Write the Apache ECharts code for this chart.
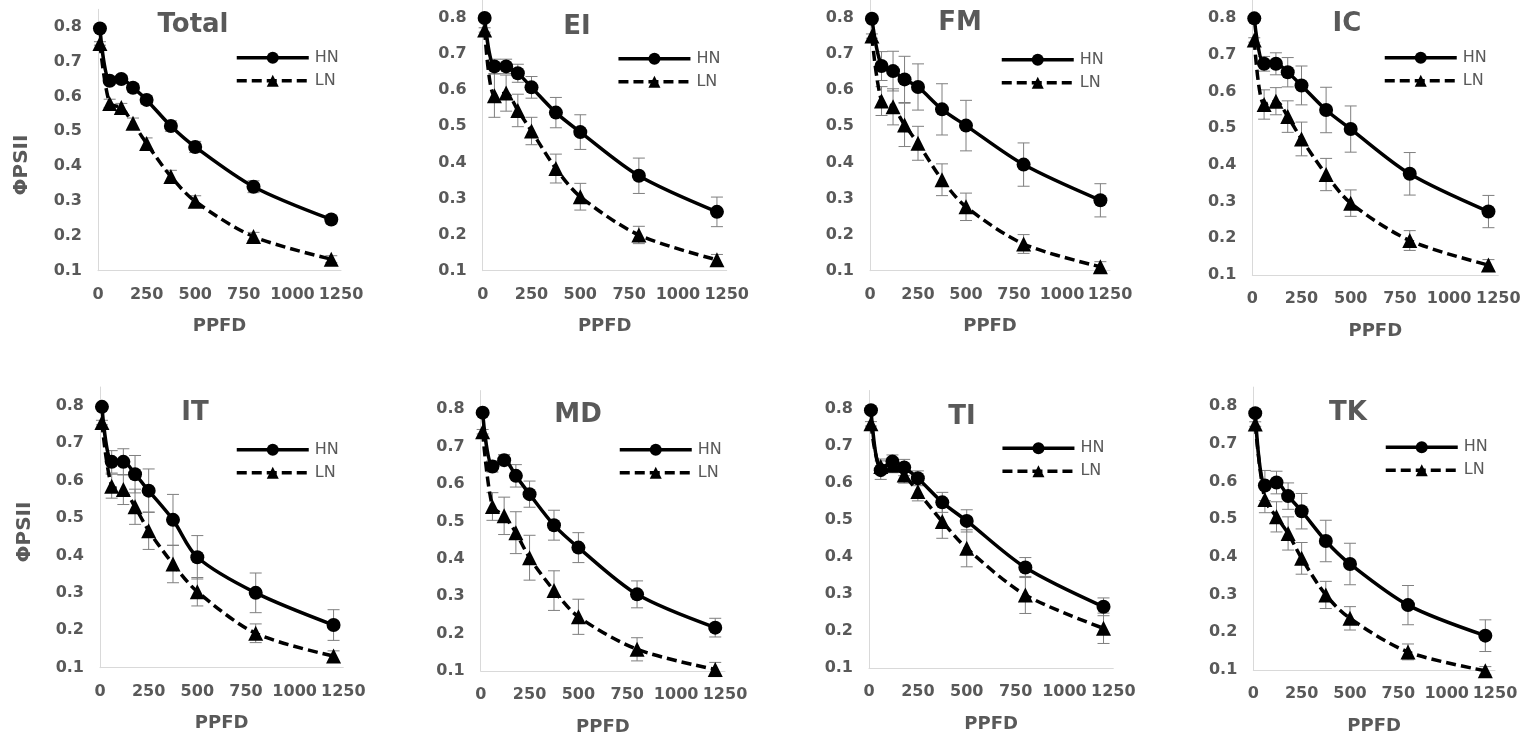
<!DOCTYPE html>
<html>
<head>
<meta charset="utf-8">
<script src="https://cdn.jsdelivr.net/npm/echarts@6/dist/echarts.min.js"></script>
<style>
  html, body { margin: 0; padding: 0; background: #fff; }
  #chart { width: 1528px; height: 737px; }
</style>
</head>
<body>
<div id="chart"></div>
<script>
// Light-response of ΦPSII under high (HN) and low (LN) nitrogen, per site
const ppfd = [10, 60, 120, 180, 250, 375, 500, 800, 1200];
const panelNames = ['Total', 'EI', 'FM', 'IC', 'IT', 'MD', 'TI', 'TK'];
const xTicks = [0, 250, 500, 750, 1000, 1250];
const yTicks = [0.1, 0.2, 0.3, 0.4, 0.5, 0.6, 0.7, 0.8];

const hnTotal = [0.795, 0.645, 0.650, 0.625, 0.590, 0.515, 0.455, 0.341, 0.247];
const hnErrTotal = [0.005, 0.010, 0.010, 0.012, 0.012, 0.015, 0.016, 0.017, 0.012];
const lnTotal = [0.752, 0.580, 0.568, 0.523, 0.465, 0.370, 0.299, 0.198, 0.133];
const lnErrTotal = [0.005, 0.012, 0.012, 0.015, 0.016, 0.018, 0.016, 0.012, 0.010];

const hnEI = [0.800, 0.666, 0.666, 0.647, 0.608, 0.538, 0.484, 0.363, 0.263];
const hnErrEI = [0.005, 0.020, 0.020, 0.025, 0.030, 0.042, 0.048, 0.049, 0.041];
const lnEI = [0.767, 0.585, 0.592, 0.544, 0.487, 0.383, 0.305, 0.199, 0.130];
const lnErrEI = [0.006, 0.060, 0.050, 0.045, 0.038, 0.040, 0.037, 0.024, 0.015];

const hnFM = [0.798, 0.667, 0.653, 0.630, 0.609, 0.547, 0.502, 0.394, 0.295];
const hnErrFM = [0.005, 0.040, 0.055, 0.064, 0.064, 0.071, 0.070, 0.060, 0.046];
const lnFM = [0.750, 0.570, 0.554, 0.504, 0.453, 0.352, 0.277, 0.174, 0.111];
const lnErrFM = [0.006, 0.040, 0.050, 0.060, 0.047, 0.044, 0.038, 0.026, 0.014];

const hnIC = [0.800, 0.676, 0.676, 0.653, 0.617, 0.550, 0.498, 0.376, 0.273];
const hnErrIC = [0.005, 0.020, 0.030, 0.040, 0.053, 0.062, 0.063, 0.058, 0.044];
const lnIC = [0.741, 0.565, 0.574, 0.532, 0.471, 0.374, 0.296, 0.194, 0.127];
const lnErrIC = [0.006, 0.040, 0.037, 0.043, 0.046, 0.044, 0.036, 0.027, 0.015];

const hnIT = [0.797, 0.650, 0.650, 0.617, 0.573, 0.495, 0.395, 0.300, 0.214];
const hnErrIT = [0.005, 0.030, 0.035, 0.050, 0.058, 0.068, 0.058, 0.053, 0.041];
const lnIT = [0.755, 0.585, 0.576, 0.530, 0.466, 0.377, 0.303, 0.192, 0.131];
const lnErrIT = [0.006, 0.032, 0.040, 0.047, 0.050, 0.050, 0.038, 0.025, 0.014];

const hnMD = [0.791, 0.647, 0.664, 0.622, 0.573, 0.490, 0.430, 0.305, 0.216];
const hnErrMD = [0.005, 0.015, 0.015, 0.030, 0.035, 0.040, 0.040, 0.036, 0.025];
const lnMD = [0.740, 0.540, 0.515, 0.470, 0.403, 0.315, 0.245, 0.158, 0.104];
const lnErrMD = [0.006, 0.037, 0.050, 0.056, 0.060, 0.053, 0.047, 0.031, 0.019];

const hnTI = [0.797, 0.635, 0.658, 0.642, 0.613, 0.548, 0.498, 0.372, 0.266];
const hnErrTI = [0.005, 0.025, 0.018, 0.022, 0.020, 0.027, 0.030, 0.027, 0.024];
const lnTI = [0.760, 0.645, 0.648, 0.622, 0.577, 0.496, 0.424, 0.298, 0.208];
const lnErrTI = [0.006, 0.020, 0.020, 0.022, 0.025, 0.045, 0.050, 0.050, 0.041];

const hnTK = [0.781, 0.589, 0.597, 0.561, 0.521, 0.442, 0.381, 0.272, 0.191];
const hnErrTK = [0.005, 0.040, 0.030, 0.035, 0.047, 0.055, 0.055, 0.052, 0.042];
const lnTK = [0.752, 0.552, 0.506, 0.462, 0.396, 0.299, 0.237, 0.148, 0.098];
const lnErrTK = [0.006, 0.035, 0.040, 0.044, 0.042, 0.036, 0.031, 0.021, 0.011];

const panelData = {
  Total: [hnTotal, hnErrTotal, lnTotal, lnErrTotal],
  EI: [hnEI, hnErrEI, lnEI, lnErrEI],
  FM: [hnFM, hnErrFM, lnFM, lnErrFM],
  IC: [hnIC, hnErrIC, lnIC, lnErrIC],
  IT: [hnIT, hnErrIT, lnIT, lnErrIT],
  MD: [hnMD, hnErrMD, lnMD, lnErrMD],
  TI: [hnTI, hnErrTI, lnTI, lnErrTI],
  TK: [hnTK, hnErrTK, lnTK, lnErrTK]
};

// Plot-area boxes (px): left, top, width, height; title centre; legend anchor
const layout = [
  { l: 98,    t: 9.3,   w: 243,   h: 261.4, tx: 193, ty: 25,  lx: 235,   ly: 57.3 },
  { l: 482.7, t: -0.8,  w: 244,   h: 271.5, tx: 577, ty: 27,  lx: 616.7, ly: 58.3 },
  { l: 870,   t: -1.4,  w: 240,   h: 272.1, tx: 960, ty: 23,  lx: 1000,  ly: 59.3 },
  { l: 1252.3,t: -2.8,  w: 246,   h: 277.8, tx: 1347, ty: 24, lx: 1383,  ly: 57.3 },
  { l: 100,   t: 387,   w: 243.3, h: 280.7, tx: 195, ty: 413, lx: 235,   ly: 449.3 },
  { l: 480.7, t: 390.6, w: 244.3, h: 280.4, tx: 578, ty: 415, lx: 618,   ly: 449.3 },
  { l: 869,   t: 390.5, w: 244.3, h: 277.8, tx: 962, ty: 417, lx: 1000.7,ly: 447.7 },
  { l: 1253.3,t: 387.1, w: 241.7, h: 282.9, tx: 1348, ty: 413,lx: 1384,  ly: 446.7 }
];

const FONT = '"DejaVu Sans", Verdana, sans-serif';
const GREY = '#595959';
const AXIS_GREY = '#d9d9d9';
const ERR_GREY = '#7f7f7f';

function errorBarRender(params, api) {
  const x = api.value(0), y = api.value(1), e = api.value(2);
  const top = api.coord([x, y + e]);
  const bot = api.coord([x, y - e]);
  const hw = 6;
  const st = { stroke: ERR_GREY, lineWidth: 1 };
  return {
    type: 'group',
    children: [
      { type: 'line', shape: { x1: top[0], y1: top[1], x2: bot[0], y2: bot[1] }, style: st },
      { type: 'line', shape: { x1: top[0] - hw, y1: top[1], x2: top[0] + hw, y2: top[1] }, style: st },
      { type: 'line', shape: { x1: bot[0] - hw, y1: bot[1], x2: bot[0] + hw, y2: bot[1] }, style: st }
    ]
  };
}

const grids = [], xAxes = [], yAxes = [], series = [], legends = [], graphics = [];

panelNames.forEach((name, i) => {
  const L = layout[i];
  const [hn, hnErr, ln, lnErr] = panelData[name];

  grids.push({ left: L.l, top: L.t, width: L.w, height: L.h, containLabel: false });

  xAxes.push({
    type: 'value', gridIndex: i,
    min: xTicks[0], max: xTicks[xTicks.length - 1], interval: xTicks[1] - xTicks[0],
    name: 'PPFD', nameLocation: 'middle', nameGap: 47,
    nameTextStyle: { fontFamily: FONT, fontWeight: 'bold', fontSize: 18, color: GREY },
    axisLine: { lineStyle: { color: AXIS_GREY, width: 1 } },
    axisTick: { show: false },
    splitLine: { show: false },
    axisLabel: {
      fontFamily: FONT, fontWeight: 'bold', fontSize: 16, color: GREY, margin: 16,
      showMinLabel: true, showMaxLabel: true, hideOverlap: false,
      formatter: v => String(Math.round(v))
    }
  });

  yAxes.push({
    type: 'value', gridIndex: i,
    min: yTicks[0], max: 0.85, interval: 0.1,
    axisLine: { show: true, lineStyle: { color: AXIS_GREY, width: 1 } },
    axisTick: { show: false },
    splitLine: { show: false },
    axisLabel: {
      fontFamily: FONT, fontWeight: 'bold', fontSize: 16, color: GREY, margin: 16,
      showMaxLabel: false,
      formatter: v => (v > yTicks[yTicks.length - 1] + 1e-9 ? '' : v.toFixed(1))
    }
  });

  const errData = (ys, es) => ppfd.map((x, k) => [x, ys[k], es[k]]);

  series.push({
    type: 'custom', name: 'HN error', xAxisIndex: i, yAxisIndex: i, z: 1,
    renderItem: errorBarRender, encode: { x: 0, y: 1 }, data: errData(hn, hnErr), silent: true
  });
  series.push({
    type: 'custom', name: 'LN error', xAxisIndex: i, yAxisIndex: i, z: 1,
    renderItem: errorBarRender, encode: { x: 0, y: 1 }, data: errData(ln, lnErr), silent: true
  });

  series.push({
    type: 'line', name: 'HN', xAxisIndex: i, yAxisIndex: i, z: 4,
    data: ppfd.map((x, k) => [x, hn[k]]),
    smooth: 0.3, clip: false,
    symbol: 'circle', symbolSize: 14,
    lineStyle: { color: '#000', width: 3.5 },
    itemStyle: { color: '#000' }
  });
  series.push({
    type: 'line', name: 'LN', xAxisIndex: i, yAxisIndex: i, z: 3,
    data: ppfd.map((x, k) => [x, ln[k]]),
    smooth: 0.3, clip: false,
    symbol: 'triangle', symbolSize: 15,
    lineStyle: { color: '#000', width: 3.5, type: [10, 5] },
    itemStyle: { color: '#000' }
  });

  legends.push({
    data: ['HN', 'LN'], orient: 'vertical', selectedMode: false,
    left: L.lx, top: L.ly - 7.5,
    itemWidth: 72, itemHeight: 15, itemGap: 7, padding: 0,
    lineStyle: { width: 3.5 },
    textStyle: { fontFamily: FONT, fontSize: 16, color: GREY, padding: [0, 0, 0, 1] }
  });

  graphics.push({
    type: 'text', x: L.tx, y: L.ty,
    style: { text: name, fontFamily: FONT, fontWeight: 'bold', fontSize: 26, fill: GREY,
             align: 'center', verticalAlign: 'middle' }
  });
});

// ΦPSII axis titles on the left column
graphics.push({
  type: 'text', x: 22, y: 165, rotation: Math.PI / 2,
  style: { text: 'ΦPSII', fontFamily: FONT, fontWeight: 'bold', fontSize: 20, fill: GREY,
           align: 'center', verticalAlign: 'middle' }
});
graphics.push({
  type: 'text', x: 25, y: 532, rotation: Math.PI / 2,
  style: { text: 'ΦPSII', fontFamily: FONT, fontWeight: 'bold', fontSize: 20, fill: GREY,
           align: 'center', verticalAlign: 'middle' }
});

const chart = echarts.init(document.getElementById('chart'), null, { renderer: 'canvas' });
chart.setOption({
  backgroundColor: '#fff',
  animation: false,
  grid: grids,
  xAxis: xAxes,
  yAxis: yAxes,
  legend: legends,
  series: series,
  graphic: graphics
});
</script>
</body>
</html>
